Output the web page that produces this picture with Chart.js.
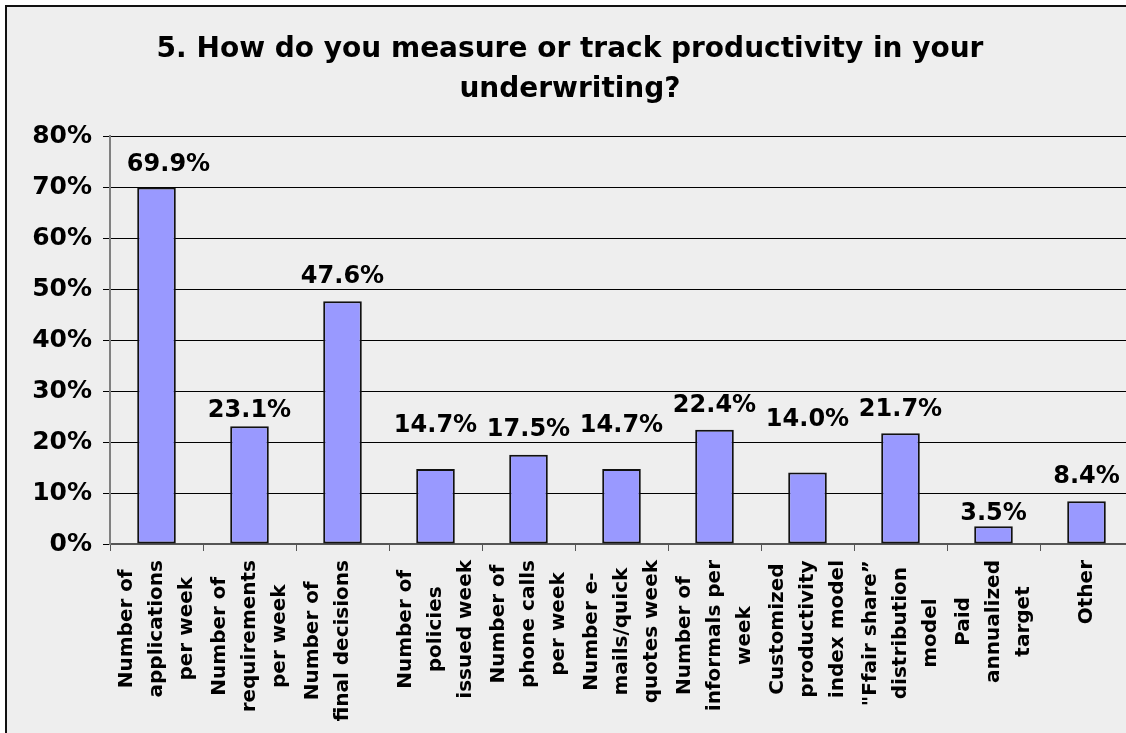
<!DOCTYPE html>
<html>
<head>
<meta charset="utf-8">
<title>Produtividade na subscrição</title>
<script src="https://cdn.jsdelivr.net/npm/chart.js@4.4.1/dist/chart.umd.min.js"></script>
<style>
  html, body { margin: 0; padding: 0; background: #fff; overflow: hidden; }
  #moldura {
    position: absolute; left: 5px; top: 5px; width: 1130px; height: 740px;
    border-left: 2px solid #111; border-top: 2px solid #111; background: #eeeeee;
  }
  #grafico { display: block; }
</style>
</head>
<body>
<div id="moldura"><canvas id="grafico" width="1126" height="726"></canvas></div>
<script>
// Dados da pergunta 5
const titulo = ['5. How do you measure or track productivity in your', 'underwriting?'];

const categorias = [
    ['Number of', 'applications', 'per week'],
    ['Number of', 'requirements', 'per week'],
    ['Number of', 'final decisions', ''],
    ['Number of', 'policies', 'issued week'],
    ['Number of', 'phone calls', 'per week'],
    ['Number e-', 'mails/quick', 'quotes week'],
    ['Number of', 'informals per', 'week'],
    ['Customized', 'productivity', 'index model'],
    ['"Ffair share\u201D', 'distribution', 'model'],
    ['Paid', 'annualized', 'target'],
    ['Other']
];

const percentuais = [69.9, 23.1, 47.6, 14.7, 17.5, 14.7, 22.4, 14.0, 21.7, 3.5, 8.4];

const rotulosY = ['0%', '10%', '20%', '30%', '40%', '50%', '60%', '70%', '80%'];

// Ajuste manual dos rótulos de valor: distância acima da barra e desvio lateral (px)
const folgaRotulo = [17, 9, 18, 37, 19, 37, 18, 47, 17, 6, 18];
const desvioRotulo = [12, 0, 0, 0, 0, 0, 0, 0, 0, 0, 0];

const fonte = '"DejaVu Sans", Verdana, sans-serif';

// Plugin para escrever o percentual em cima de cada barra
const rotulosValor = {
    id: 'rotulosValor',
    afterDatasetsDraw(chart) {
        const ctx = chart.ctx;
        const meta = chart.getDatasetMeta(0);
        ctx.save();
        ctx.font = 'bold 24px ' + fonte;
        ctx.fillStyle = '#000';
        ctx.textAlign = 'center';
        ctx.textBaseline = 'alphabetic';
        meta.data.forEach(function(barra, i) {
            ctx.fillText(percentuais[i].toFixed(1) + '%', barra.x + desvioRotulo[i], barra.y - folgaRotulo[i]);
        });
        ctx.restore();
    }
};

// Plugin para os rótulos do eixo X (verticais, linhas centralizadas entre si)
const rotulosEixoX = {
    id: 'rotulosEixoX',
    afterDraw(chart) {
        const ctx = chart.ctx;
        const escala = chart.scales.x;
        const alturaLinha = 30;
        ctx.save();
        ctx.font = 'bold 20px ' + fonte;
        ctx.fillStyle = '#000';
        ctx.textAlign = 'center';
        ctx.textBaseline = 'middle';
        categorias.forEach(function(linhas, i) {
            const cx = escala.getPixelForTick(i);
            const larguraMax = Math.max.apply(null, linhas.map(function(l) { return ctx.measureText(l).width; }));
            const cy = escala.top + 16 + larguraMax / 2;
            linhas.forEach(function(linha, j) {
                const x = cx + (j - (linhas.length - 1) / 2) * alturaLinha;
                ctx.save();
                ctx.translate(x, cy);
                ctx.rotate(-Math.PI / 2);
                ctx.fillText(linha, 0, 0);
                ctx.restore();
            });
        });
        ctx.restore();
    }
};

const ctx = document.getElementById('grafico').getContext('2d');

window.graficoProdutividade = new Chart(ctx, {
    type: 'bar',
    data: {
        labels: categorias,
        datasets: [{
            data: percentuais,
            backgroundColor: '#9999ff',
            borderColor: '#111',
            borderWidth: 2,
            borderSkipped: false,
            barPercentage: 0.415,
            categoryPercentage: 1
        }]
    },
    options: {
        responsive: false,
        animation: false,
        devicePixelRatio: 1,
        events: [],
        layout: { padding: 0 },
        plugins: {
            legend: { display: false },
            tooltip: { enabled: false },
            title: {
                display: true,
                text: titulo,
                color: '#000',
                font: { family: fonte, size: 28, weight: 'bold', lineHeight: 40 / 28 },
                padding: { top: 22.7, bottom: 26.3 }
            }
        },
        scales: {
            x: {
                offset: true,
                grid: {
                    display: true,
                    offset: true,
                    drawOnChartArea: false,
                    drawTicks: true,
                    tickLength: 7,
                    color: '#555'
                },
                border: { display: true, color: '#555', width: 2 },
                ticks: { display: false },
                afterFit: function(escala) { escala.height = 189; }
            },
            y: {
                min: 0,
                max: 80,
                grid: { color: '#000', lineWidth: 1, tickLength: 7 },
                border: { display: true, color: '#808080', width: 2 },
                ticks: {
                    stepSize: 10,
                    padding: 11,
                    color: '#000',
                    font: { family: fonte, size: 25, weight: 'bold' },
                    callback: function(valor, indice) { return rotulosY[indice]; }
                },
                afterFit: function(escala) { escala.width = 103; }
            }
        }
    },
    plugins: [rotulosValor, rotulosEixoX]
});
</script>
</body>
</html>
